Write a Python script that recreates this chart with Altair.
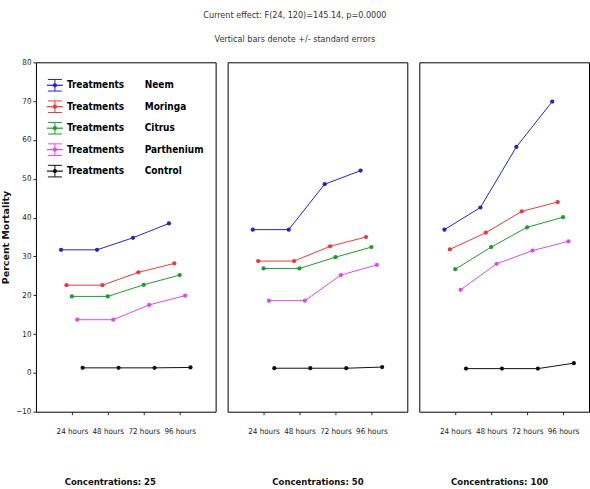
import altair as alt
import pandas as pd

hours = ["24 hours", "48 hours", "72 hours", "96 hours"]
series = ["Neem", "Moringa", "Citrus", "Parthenium", "Control"]
colors = ["#2323c8", "#e83a3a", "#1f9a2e", "#e04ae0", "#111111"]
concs = ["25", "50", "100"]

neem_25 = [31.7, 31.7, 34.8, 38.5]
moringa_25 = [22.6, 22.6, 25.9, 28.2]
citrus_25 = [19.7, 19.7, 22.7, 25.2]
parth_25 = [13.7, 13.7, 17.5, 19.9]
control_25 = [1.3, 1.3, 1.3, 1.4]

neem_50 = [36.9, 36.9, 48.6, 52.1]
moringa_50 = [28.8, 28.8, 32.6, 35.0]
citrus_50 = [26.9, 26.9, 29.8, 32.4]
parth_50 = [18.6, 18.6, 25.2, 27.8]
control_50 = [1.2, 1.2, 1.2, 1.5]

neem_100 = [36.9, 42.6, 58.2, 69.9]
moringa_100 = [31.8, 36.1, 41.6, 44.0]
citrus_100 = [26.7, 32.4, 37.5, 40.1]
parth_100 = [21.4, 28.1, 31.5, 33.9]
control_100 = [1.1, 1.1, 1.1, 2.5]

table = {
    "25": [neem_25, moringa_25, citrus_25, parth_25, control_25],
    "50": [neem_50, moringa_50, citrus_50, parth_50, control_50],
    "100": [neem_100, moringa_100, citrus_100, parth_100, control_100],
}

rows = []
for c in concs:
    for si, s in enumerate(series):
        for hi, h in enumerate(hours):
            rows.append({"conc": c, "series": s, "si": si, "hi": hi + 1,
                         "hour": h, "value": table[c][si][hi]})
df = pd.DataFrame(rows)

legend_df = pd.DataFrame({"series": series, "row": list(range(len(series))),
                          "label": ["Treatments"] * len(series)})

FONT = "DejaVu Sans Condensed, Liberation Sans Narrow, Liberation Sans, Arial"
color_scale = alt.Scale(domain=series, range=colors)
label_expr = "[" + ",".join(f"'{h}'" for h in hours) + "][datum.value - 1]"


def panel(conc, width, first, title_x=None):
    xmax = width / 36.0
    base = alt.Chart(df).transform_filter(
        alt.datum.conc == conc
    ).transform_calculate(
        xpos="datum.hi + (datum.si - 2) * 0.15"
    )
    axis_kw = dict(values=[1, 2, 3, 4], labelExpr=label_expr, grid=False,
                   title=f"Concentrations: {conc}", titleFontWeight="bold",
                   titleFontSize=9.5, titlePadding=41, labelFontSize=8,
                   labelPadding=13, tickSize=3, domain=False)
    if title_x is not None:
        axis_kw["titleX"] = title_x
    x = alt.X("xpos:Q", scale=alt.Scale(domain=[0, xmax], nice=False, zero=False),
              axis=alt.Axis(**axis_kw))
    if first:
        yaxis = alt.Axis(values=list(range(-10, 81, 10)), grid=False,
                         title="Percent Mortality", titleFontWeight="bold",
                         titleFont="DejaVu Sans", titleFontSize=9.5,
                         labelFontSize=8, tickSize=3,
                         titlePadding=5, domain=False)
    else:
        yaxis = None
    y = alt.Y("value:Q", scale=alt.Scale(domain=[-10, 80], nice=False), axis=yaxis)
    color = alt.Color("series:N", scale=color_scale, legend=None)
    lines = base.mark_line(strokeWidth=1).encode(x=x, y=y, color=color,
                                                 detail="series:N",
                                                 order="hi:Q")
    pts = base.mark_point(filled=True, size=18, opacity=1).encode(x=x, y=y, color=color)
    main = alt.layer(lines, pts)
    if first:
        lb = alt.Chart(legend_df).transform_calculate(
            top="datum.row - 0.27", bot="datum.row + 0.27")
        lsc = alt.Scale(domain=[0, 4], range=[23, 109])
        ly = alt.Y("row:Q", scale=lsc, axis=None)
        lc = alt.Color("series:N", scale=color_scale, legend=None)
        sym_h = lb.mark_rule(strokeWidth=1.2).encode(
            x=alt.value(11), x2=alt.value(27), y=ly, color=lc)
        sym_v = lb.mark_rule(strokeWidth=1).encode(
            x=alt.value(19), y=alt.Y("top:Q", scale=lsc, axis=None),
            y2="bot:Q", color=lc)
        cap_t = lb.mark_rule(strokeWidth=1).encode(
            x=alt.value(12), x2=alt.value(26),
            y=alt.Y("top:Q", scale=lsc, axis=None), color=lc)
        cap_b = lb.mark_rule(strokeWidth=1).encode(
            x=alt.value(12), x2=alt.value(26),
            y=alt.Y("bot:Q", scale=lsc, axis=None), color=lc)
        sym_pt = lb.mark_point(filled=True, size=18, opacity=1).encode(
            x=alt.value(19), y=ly, color=lc)
        t1 = lb.mark_text(align="left", baseline="middle", fontSize=10,
                          fontWeight="bold", font=FONT).encode(
            x=alt.value(31), y=ly, text="label:N")
        t2 = lb.mark_text(align="left", baseline="middle", fontSize=10,
                          fontWeight="bold", font=FONT).encode(
            x=alt.value(109), y=ly, text="series:N")
        leg = alt.layer(sym_h, sym_v, cap_t, cap_b, sym_pt, t1, t2)
        ch = alt.layer(main, leg).resolve_scale(y="independent")
    else:
        ch = main
    return ch.properties(width=width, height=350)


chart = alt.hconcat(
    panel("25", 180, True, title_x=74),
    panel("50", 180, False),
    panel("100", 170, False, title_x=80),
    spacing=10,
).properties(
    title=alt.TitleParams(
        ["Current effect: F(24, 120)=145.14, p=0.0000",
         "Vertical bars denote +/- standard errors"],
        fontSize=9, fontWeight="normal", color="#333333", lineHeight=24,
        anchor="middle", offset=14, font=FONT),
    padding={"left": 0, "top": 10, "right": 0, "bottom": 0},
).configure_view(
    stroke="black", strokeWidth=1
).configure_axis(
    labelFont=FONT, titleFont=FONT, labelColor="#222222", titleColor="#111111",
    tickColor="#222222"
)

chart.save("out.html", embed_options={"renderer": "svg", "actions": False})
